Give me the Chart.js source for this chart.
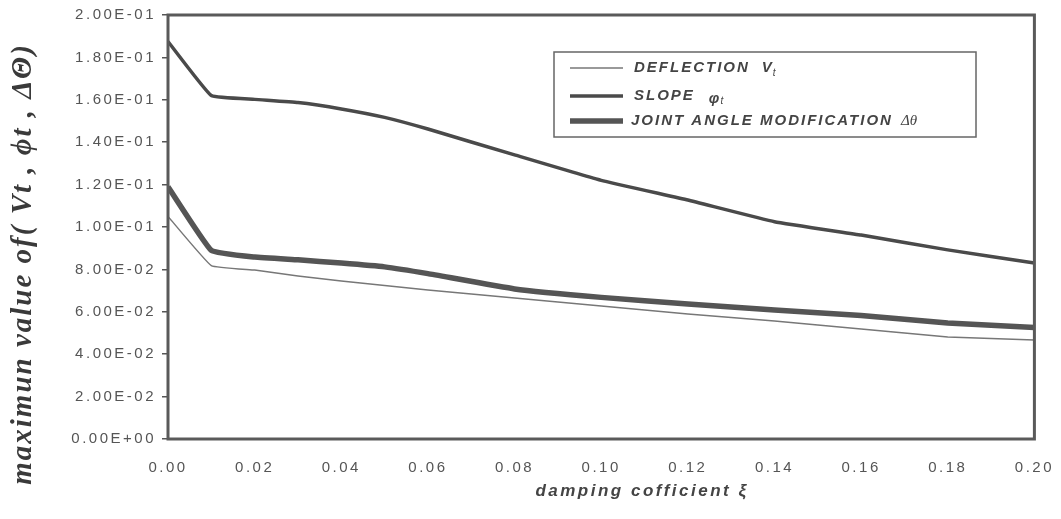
<!DOCTYPE html>
<html>
<head>
<meta charset="utf-8">
<script src="https://cdn.jsdelivr.net/npm/chart.js@4.4.1/dist/chart.umd.min.js"></script>
<style>
    html, body { margin: 0; padding: 0; background: #fff; }
    #wrap { width: 1061px; height: 519px; }
</style>
</head>
<body>
<div id="wrap"><canvas id="dampingChart" width="1061" height="519"></canvas></div>
<script>
(function () {
    'use strict';

    // damping coefficient ξ
    var damping = [0.00, 0.01, 0.02, 0.03, 0.04, 0.05, 0.06, 0.08, 0.10, 0.12, 0.14, 0.16, 0.18, 0.20];
    // maximum deflection Vt
    var deflection = [0.105, 0.0818, 0.0797, 0.0769, 0.0745, 0.0724, 0.0703, 0.0665, 0.0627, 0.0590, 0.0557, 0.0519, 0.0481, 0.0467];
    // maximum slope φt
    var slope = [0.1875, 0.1620, 0.1602, 0.1587, 0.1557, 0.1517, 0.1462, 0.1340, 0.1220, 0.1127, 0.1025, 0.0962, 0.0892, 0.0830];
    // maximum joint angle modification Δθ
    var jointAngle = [0.1190, 0.0890, 0.0858, 0.0845, 0.0830, 0.0812, 0.0780, 0.0708, 0.0668, 0.0637, 0.0608, 0.0583, 0.0547, 0.0526];

    var xTicks = [0.00, 0.02, 0.04, 0.06, 0.08, 0.10, 0.12, 0.14, 0.16, 0.18, 0.20];
    var yTicks = [0.00, 0.02, 0.04, 0.06, 0.08, 0.10, 0.12, 0.14, 0.16, 0.18, 0.20];

    var ink = '#4a4a4a';
    var textInk = '#555';

    function pairs(values) {
        return damping.map(function (x, i) { return { x: x, y: values[i] }; });
    }

    function sciLabel(v) {
        if (v === 0) return '0.00E+00';
        var exp = Math.floor(Math.log10(v) + 1e-9);
        var mant = v / Math.pow(10, exp);
        var sign = exp < 0 ? '-' : '+';
        var e = Math.abs(exp);
        return mant.toFixed(2) + 'E' + sign + (e < 10 ? '0' + e : e);
    }

    var series = [
        { label: 'DEFLECTION', sub: 'V', subT: 't', data: deflection, color: '#777', width: 1.5 },
        { label: 'SLOPE', sub: 'φ', subT: 't', data: slope, color: ink, width: 3.5 },
        { label: 'JOINT ANGLE MODIFICATION', sub: 'Δθ', subT: '', data: jointAngle, color: '#555', width: 5.5 }
    ];

    // frame, legend box and axis titles
    var decorations = {
        id: 'decorations',
        beforeDraw: function (chart) {
            chart.ctx.letterSpacing = '2.5px';
        },
        afterDraw: function (chart) {
            var ctx = chart.ctx;
            var a = chart.chartArea;
            ctx.save();
            ctx.strokeStyle = '#5a5a5a';
            ctx.lineWidth = 3;
            ctx.strokeRect(a.left, a.top, a.right - a.left, a.bottom - a.top);

            // legend
            ctx.lineWidth = 1.5;
            ctx.strokeStyle = '#666';
            ctx.strokeRect(554, 52, 422, 85);
            var rows = [68, 96, 121];
            series.forEach(function (s, i) {
                var y = rows[i];
                ctx.beginPath();
                ctx.strokeStyle = s.color;
                ctx.lineWidth = s.width;
                ctx.moveTo(570, y);
                ctx.lineTo(623, y);
                ctx.stroke();
                ctx.fillStyle = '#444';
                ctx.letterSpacing = '2px';
                ctx.font = 'italic bold 15px "Liberation Sans", Arial, sans-serif';
                ctx.textBaseline = 'middle';
                ctx.textAlign = 'left';
                var x0 = i === 2 ? 631 : 634;
                ctx.fillText(s.label, x0, y);
                var w = ctx.measureText(s.label).width;
                var sx = x0 + w + (i === 2 ? 8 : i === 0 ? 12 : 14);
                ctx.font = i === 2 ? 'italic 15px "Liberation Serif", serif' : 'italic bold 15px "Liberation Sans", Arial, sans-serif';
                ctx.letterSpacing = '0px';
                ctx.fillText(s.sub, sx, y + (i === 1 ? 3 : 0));
                var sw = ctx.measureText(s.sub).width;
                if (s.subT) {
                    ctx.font = 'italic 10px "Liberation Sans", Arial, sans-serif';
                    ctx.fillText(s.subT, sx + sw + 1, y + 5);
                }
            });

            // y axis title
            ctx.save();
            ctx.translate(24, 264);
            ctx.rotate(-Math.PI / 2);
            ctx.fillStyle = '#3a3a3a';
            ctx.font = 'italic bold 29px "Liberation Serif", "DejaVu Serif", serif';
            ctx.letterSpacing = '2px';
            ctx.textAlign = 'center';
            ctx.textBaseline = 'middle';
            ctx.fillText('maximun value of( Vt , ϕt , ΔΘ)', 0, 0);
            ctx.restore();

            // x axis title
            ctx.fillStyle = '#444';
            ctx.font = 'italic bold 17px "Liberation Sans", Arial, sans-serif';
            ctx.letterSpacing = '2.5px';
            ctx.textAlign = 'center';
            ctx.textBaseline = 'middle';
            ctx.fillText('damping cofficient ξ', 642, 491);
            ctx.restore();
        }
    };

    new Chart(document.getElementById('dampingChart'), {
        type: 'line',
        data: {
            datasets: series.map(function (s) {
                return {
                    label: s.label,
                    data: pairs(s.data),
                    borderColor: s.color,
                    borderWidth: s.width,
                    pointRadius: 0,
                    tension: 0.1,
                    fill: false
                };
            })
        },
        options: {
            responsive: false,
            animation: false,
            devicePixelRatio: 1,
            layout: { padding: { top: 15, right: 24, left: 0, bottom: 0 } },
            plugins: {
                legend: { display: false },
                tooltip: { enabled: false }
            },
            scales: {
                x: {
                    type: 'linear',
                    min: 0,
                    max: 0.2,
                    afterFit: function (scale) { scale.height = 80; },
                    afterBuildTicks: function (scale) {
                        scale.ticks = xTicks.map(function (v) { return { value: v }; });
                    },
                    grid: { display: false },
                    border: { display: false },
                    ticks: {
                        color: textInk,
                        padding: 12,
                        maxRotation: 0,
                        font: { family: '"Liberation Sans", Arial, sans-serif', size: 15 },
                        callback: function (v) { return v.toFixed(2); }
                    }
                },
                y: {
                    min: 0,
                    max: 0.2,
                    afterFit: function (scale) { scale.width = 168; },
                    afterBuildTicks: function (scale) {
                        scale.ticks = yTicks.map(function (v) { return { value: v }; });
                    },
                    grid: { drawOnChartArea: false, drawTicks: true, tickLength: 6, color: '#555', lineWidth: 1.5 },
                    border: { display: false },
                    ticks: {
                        color: textInk,
                        padding: 6,
                        font: { family: '"Liberation Sans", Arial, sans-serif', size: 15 },
                        callback: function (v) { return sciLabel(v); }
                    }
                }
            }
        },
        plugins: [decorations]
    });
})();
</script>
</body>
</html>
